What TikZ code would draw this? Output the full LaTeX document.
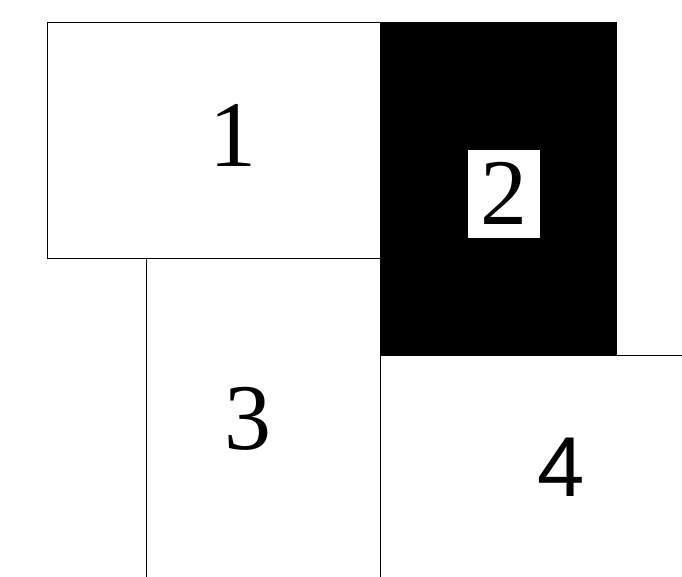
\documentclass[tikz,border=0pt]{standalone}
\usepackage{fontspec}
\setmainfont{Liberation Serif}
\newfontfamily\arialfont{Liberation Sans}
\usepackage{tikz}
\usetikzlibrary{positioning}

\begin{document}
\begin{tikzpicture}[
  x=1pt,y=-1pt,
  panel/.style={draw=black,line width=1pt},
  darkpanel/.style={fill=black},
  digit/.style={inner sep=0pt,font=\fontsize{94}{94}\selectfont},
  sansdigit/.style={inner sep=0pt,font=\arialfont\fontsize{85}{85}\selectfont},
  tag/.style={fill=white,draw=black,line width=0.5pt,minimum width=73pt,minimum height=89pt,inner sep=0pt}
]
\useasboundingbox (0,0) rectangle (682,576);
\clip (0,0) rectangle (682,576);
% panels
\draw[panel] (146,258) rectangle (380,590);
\draw[panel] (380,355) rectangle (700,590);
\draw[panel,fill=white] (47,22) rectangle (380,258);
\fill[darkpanel] (380,22) rectangle (617,355);
% labels
\node[digit] (one) at (232.5,135) {1};
\node[tag] (twobox) at (503.5,193.5) {};
\node[digit] (two) at (twobox.center) {2};
\node[digit] (three) at (248,418.5) {3};
\node[sansdigit] (four) at (561,467.5) {4};
\end{tikzpicture}
\end{document}
